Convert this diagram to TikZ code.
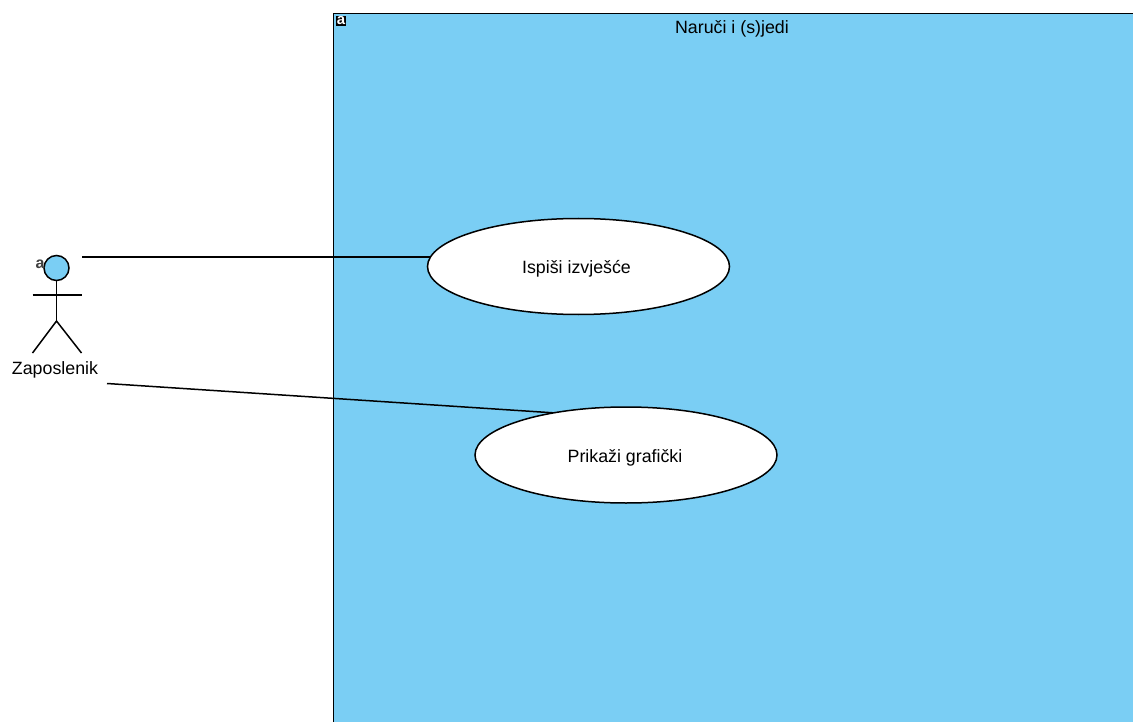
\documentclass[tikz,border=0pt]{standalone}
\usepackage{fontspec}
\setmainfont{Liberation Sans}
\usetikzlibrary{shapes.geometric}
\definecolor{sysblue}{HTML}{7ACEF4}
\tikzset{
  lbl/.style={inner sep=0pt,font=\fontsize{17.8}{20}\selectfont,text=black},
  uc/.style={ellipse,draw=black,line width=1.5pt,fill=white,minimum width=302pt,minimum height=96pt,inner sep=0pt},
  conn/.style={draw=black,line width=1.5pt},
  limb/.style={draw=black,line width=1.5pt},
  tag/.style={inner sep=0.8pt,font=\fontsize{15}{15}\selectfont\bfseries}
}
\begin{document}
\begin{tikzpicture}[x=1pt,y=-1pt]
\useasboundingbox (0,0) rectangle (1133,722);
\fill[white] (0,0) rectangle (1133,722);
% system boundary
\fill[sysblue] (333.5,13.5) rectangle (1133,722);
\draw[black,line width=1.5pt] (333.5,722) -- (333.5,13.5) -- (1133,13.5);
\node[lbl] (title) at (732,29) {Naruči i (s)jedi};
\node[tag,fill=black,text=white] (t1) at (341,21) {a};
% actor
\coordinate (a1) at (82,257);
\coordinate (a2) at (107,383.5);
\coordinate (u1w) at (430,257);
\coordinate (u2w) at (556,413);
\draw[conn] (a1) -- (u1w);
\draw[conn] (a2) -- (u2w);
\node[uc] (u1) at (578.5,266.5) {};
\node[uc] (u2) at (626,455) {};
\node[lbl] (u1t) at (576.5,268.5) {Ispiši izvješće};
\node[lbl] (u2t) at (625,458) {Prikaži grafički};
\node[circle,draw=black,fill=sysblue,line width=1.5pt,minimum size=25pt,inner sep=0pt] (head) at (56.5,268) {};
\coordinate (hip) at (56.5,321);
\coordinate (armL) at (32.5,295);
\coordinate (armR) at (81.5,295);
\coordinate (footL) at (32.5,353);
\coordinate (footR) at (81.5,353);
\draw[limb] (head) -- (hip);
\draw[limb] (armL) -- (armR);
\draw[limb] (footL) -- (hip) -- (footR);
\node[lbl] (actor) at (55,370) {Zaposlenik};
\node[inner sep=0pt,font=\fontsize{16}{16}\selectfont\bfseries,text=black!75] (t2) at (40,264) {a};
\end{tikzpicture}
\end{document}
